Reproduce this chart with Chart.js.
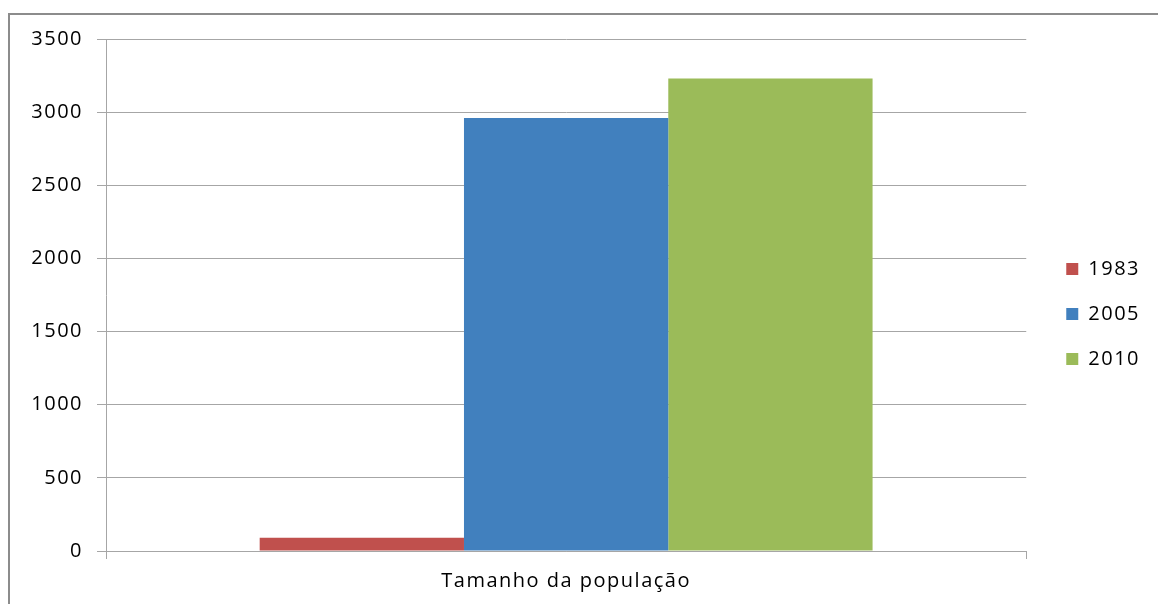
<!DOCTYPE html>
<html>
<head>
<meta charset="utf-8">
<script src="https://cdn.jsdelivr.net/npm/chart.js@4"></script>
<style>
  html, body { margin: 0; padding: 0; background: #fff; overflow: hidden; }
  #wrap { position: absolute; left: 0; top: 0; width: 1158px; height: 604px; }
</style>
</head>
<body>
<div id="wrap"><canvas id="chart"></canvas></div>
<script>
const categories = ["Tamanho da população"];
const seriesNames = ["1983", "2005", "2010"];
const values1983 = [90];
const values2005 = [2960];
const values2010 = [3230];
const seriesColors = ["#C0504D", "#4180BE", "#9BBB59"];

const fontFamily = "'Open Sans', sans-serif";
const gridColor = "#a6a6a6";

// slightly wider letter spacing for all canvas text
const spacing = {
  id: "spacing",
  beforeInit(chart) { chart.ctx.letterSpacing = "1.5px"; },
  beforeDraw(chart) { chart.ctx.letterSpacing = "1.5px"; }
};

// outer frame along the left and top edge
const frame = {
  id: "frame",
  beforeDraw(chart) {
    const ctx = chart.ctx;
    ctx.save();
    ctx.strokeStyle = "#8c8c8c";
    ctx.lineWidth = 2;
    ctx.beginPath();
    ctx.moveTo(9, chart.height);
    ctx.lineTo(9, 14);
    ctx.lineTo(chart.width, 14);
    ctx.stroke();
    ctx.restore();
  }
};

// nudge the legend a bit right and up from its default slot
const legendNudge = {
  id: "legendNudge",
  afterLayout(chart) {
    const lg = chart.legend;
    lg.left += 15; lg.right += 15;
    lg.top -= 7; lg.bottom -= 7;
  }
};

const chart = new Chart(document.getElementById("chart").getContext("2d"), {
  type: "bar",
  data: {
    labels: categories,
    datasets: [values1983, values2005, values2010].map((vals, i) => ({
      label: seriesNames[i],
      data: vals,
      backgroundColor: seriesColors[i],
      borderWidth: 0
    }))
  },
  plugins: [spacing, frame, legendNudge],
  options: {
    responsive: true,
    maintainAspectRatio: false,
    animation: false,
    layout: { padding: { left: 20, top: 39, right: 29, bottom: 1 } },
    plugins: {
      tooltip: { enabled: false },
      legend: {
        position: "right",
        labels: {
          boxWidth: 12,
          boxHeight: 12,
          padding: 25,
          color: "#000",
          font: { family: fontFamily, size: 20 }
        }
      }
    },
    datasets: {
      bar: { categoryPercentage: 0.666, barPercentage: 1.0 }
    },
    scales: {
      x: {
        grid: {
          drawOnChartArea: false,
          color: gridColor,
          tickLength: 8
        },
        border: { color: gridColor },
        ticks: {
          color: "#000",
          padding: 10,
          font: { family: fontFamily, size: 20 }
        }
      },
      y: {
        min: 0,
        max: 3500,
        afterFit: function (scale) { scale.width = 86; },
        ticks: {
          stepSize: 500,
          color: "#000",
          padding: 14,
          font: { family: fontFamily, size: 20 },
          callback: function (value) { return String(value); }
        },
        grid: { color: gridColor, tickLength: 9 },
        border: { color: gridColor }
      }
    }
  }
});
</script>
</body>
</html>
